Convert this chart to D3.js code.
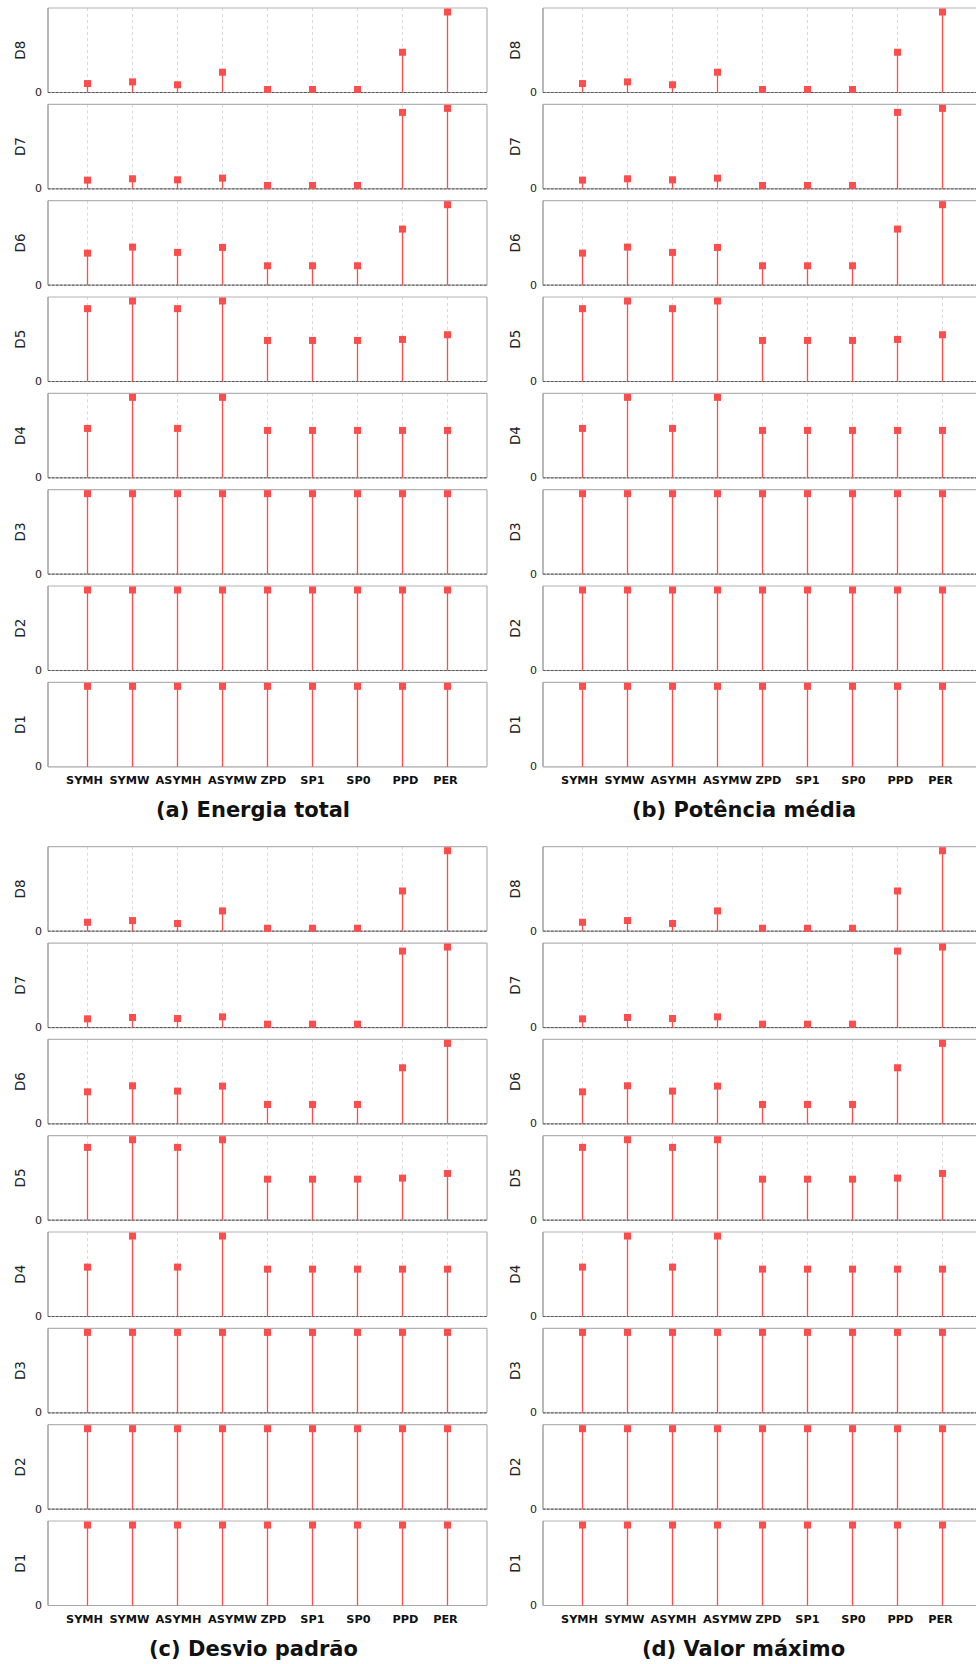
<!DOCTYPE html>
<html>
<head>
<meta charset="utf-8">
<script src="https://cdn.jsdelivr.net/npm/d3@7"></script>
<style>
  html, body { margin: 0; padding: 0; background: #fff; }
  svg { display: block; }
  text { font-family: "DejaVu Sans", sans-serif; }
</style>
</head>
<body>
<svg id="chart" width="976" height="1664"></svg>
<script>
// ---------------- DATA ----------------
const categories = ["SYMH", "SYMW", "ASYMH", "ASYMW", "ZPD", "SP1", "SP0", "PPD", "PER"];
const levels = ["D8", "D7", "D6", "D5", "D4", "D3", "D2", "D1"];
const yTickLabels = ["0"];

// relative values (each level normalised to its own maximum), rows D8..D1
const energiaTotal = [
  [0.111, 0.132, 0.096, 0.252, 0.037, 0.037, 0.037, 0.50, 1.0],
  [0.108, 0.125, 0.112, 0.133, 0.042, 0.042, 0.042, 0.95, 1.0],
  [0.398, 0.473, 0.407, 0.469, 0.241, 0.241, 0.241, 0.697, 1.0],
  [0.905, 1.0, 0.905, 1.0, 0.510, 0.510, 0.510, 0.523, 0.581],
  [0.614, 1.0, 0.614, 1.0, 0.589, 0.589, 0.589, 0.589, 0.589],
  [1.0, 1.0, 1.0, 1.0, 1.0, 1.0, 1.0, 1.0, 1.0],
  [1.0, 1.0, 1.0, 1.0, 1.0, 1.0, 1.0, 1.0, 1.0],
  [1.0, 1.0, 1.0, 1.0, 1.0, 1.0, 1.0, 1.0, 1.0]
];
const potenciaMedia = [
  [0.111, 0.132, 0.096, 0.252, 0.037, 0.037, 0.037, 0.50, 1.0],
  [0.108, 0.125, 0.112, 0.133, 0.042, 0.042, 0.042, 0.95, 1.0],
  [0.398, 0.473, 0.407, 0.469, 0.241, 0.241, 0.241, 0.697, 1.0],
  [0.905, 1.0, 0.905, 1.0, 0.510, 0.510, 0.510, 0.523, 0.581],
  [0.614, 1.0, 0.614, 1.0, 0.589, 0.589, 0.589, 0.589, 0.589],
  [1.0, 1.0, 1.0, 1.0, 1.0, 1.0, 1.0, 1.0, 1.0],
  [1.0, 1.0, 1.0, 1.0, 1.0, 1.0, 1.0, 1.0, 1.0],
  [1.0, 1.0, 1.0, 1.0, 1.0, 1.0, 1.0, 1.0, 1.0]
];
const desvioPadrao = [
  [0.111, 0.132, 0.096, 0.252, 0.037, 0.037, 0.037, 0.50, 1.0],
  [0.108, 0.125, 0.112, 0.133, 0.042, 0.042, 0.042, 0.95, 1.0],
  [0.398, 0.473, 0.407, 0.469, 0.241, 0.241, 0.241, 0.697, 1.0],
  [0.905, 1.0, 0.905, 1.0, 0.510, 0.510, 0.510, 0.523, 0.581],
  [0.614, 1.0, 0.614, 1.0, 0.589, 0.589, 0.589, 0.589, 0.589],
  [1.0, 1.0, 1.0, 1.0, 1.0, 1.0, 1.0, 1.0, 1.0],
  [1.0, 1.0, 1.0, 1.0, 1.0, 1.0, 1.0, 1.0, 1.0],
  [1.0, 1.0, 1.0, 1.0, 1.0, 1.0, 1.0, 1.0, 1.0]
];
const valorMaximo = [
  [0.111, 0.132, 0.096, 0.252, 0.037, 0.037, 0.037, 0.50, 1.0],
  [0.108, 0.125, 0.112, 0.133, 0.042, 0.042, 0.042, 0.95, 1.0],
  [0.398, 0.473, 0.407, 0.469, 0.241, 0.241, 0.241, 0.697, 1.0],
  [0.905, 1.0, 0.905, 1.0, 0.510, 0.510, 0.510, 0.523, 0.581],
  [0.614, 1.0, 0.614, 1.0, 0.589, 0.589, 0.589, 0.589, 0.589],
  [1.0, 1.0, 1.0, 1.0, 1.0, 1.0, 1.0, 1.0, 1.0],
  [1.0, 1.0, 1.0, 1.0, 1.0, 1.0, 1.0, 1.0, 1.0],
  [1.0, 1.0, 1.0, 1.0, 1.0, 1.0, 1.0, 1.0, 1.0]
];
const panelTitles = ["(a) Energia total", "(b) Potência média", "(c) Desvio padrão", "(d) Valor máximo"];

// ---------------- LAYOUT ----------------
const panels = [
  { title: panelTitles[0], data: energiaTotal, left: 48, top: 8, titleX: 253 },
  { title: panelTitles[1], data: potenciaMedia, left: 543, top: 8, titleX: 744 },
  { title: panelTitles[2], data: desvioPadrao, left: 48, top: 846.7, titleX: 253.5 },
  { title: panelTitles[3], data: valorMaximo, left: 543, top: 846.7, titleX: 743.5 }
];
const plotW = 439, plotH = 84.5, pitch = 96.33;
const red = "#ff4c4c";
// small horizontal nudges of the category labels (as placed in the original)
const labelNudge = [-3, -3, 1, 10, 6, 0, 1, 3, -2];

const svg = d3.select("#chart");

panels.forEach(p => {
  const g = svg.append("g");
  const x = d3.scalePoint().domain(categories).range([p.left, p.left + plotW]).padding(0.878);

  levels.forEach((lev, li) => {
    const top = p.top + li * pitch;
    const bottom = top + plotH;
    const y = d3.scaleLinear().domain([0, 1.05]).range([bottom, top]);
    const vals = p.data[li];
    const sg = g.append("g");

    // vertical grid lines
    sg.selectAll("line.grid").data(categories).enter().append("line")
      .attr("x1", d => x(d)).attr("x2", d => x(d))
      .attr("y1", top).attr("y2", bottom)
      .attr("stroke", "#cfcfcf").attr("stroke-width", 0.8)
      .attr("stroke-dasharray", "3,3");

    // frame
    sg.append("line").attr("x1", p.left).attr("x2", p.left + plotW).attr("y1", top).attr("y2", top)
      .attr("stroke", "#b3b3b3").attr("stroke-width", 1.2);
    sg.append("line").attr("x1", p.left + plotW).attr("x2", p.left + plotW).attr("y1", top).attr("y2", bottom)
      .attr("stroke", "#b3b3b3").attr("stroke-width", 1.2);
    sg.append("line").attr("x1", p.left).attr("x2", p.left).attr("y1", top).attr("y2", bottom)
      .attr("stroke", "#9a9a9a").attr("stroke-width", 1.4);
    sg.append("line").attr("x1", p.left).attr("x2", p.left + plotW).attr("y1", y(0)).attr("y2", y(0))
      .attr("stroke", "#a8a8a8").attr("stroke-width", 1.2);
    if (li < levels.length - 1) {
      sg.append("line").attr("x1", p.left).attr("x2", p.left + plotW).attr("y1", y(0)).attr("y2", y(0))
        .attr("stroke", "#555").attr("stroke-width", 1)
        .attr("stroke-dasharray", "2.5,1.5");
    }

    // y tick label "0"
    sg.selectAll("text.ytick").data(yTickLabels).enter().append("text")
      .attr("x", p.left - 6).attr("y", d => y(+d)).attr("dy", "0.33em")
      .attr("text-anchor", "end").attr("font-size", 11).attr("fill", "#222")
      .text(d => d);

    // level label
    sg.append("text")
      .attr("transform", `translate(${p.left - 23},${(top + bottom) / 2}) rotate(-90)`)
      .attr("text-anchor", "middle").attr("font-size", 13.5).attr("fill", "#222")
      .text(lev);

    // stems
    sg.selectAll("line.stem").data(vals).enter().append("line")
      .attr("x1", (d, i) => x(categories[i])).attr("x2", (d, i) => x(categories[i]))
      .attr("y1", y(0)).attr("y2", d => y(d))
      .attr("stroke", red).attr("stroke-width", 1.3);

    // markers
    const ms = 7;
    sg.selectAll("rect.mk").data(vals).enter().append("rect")
      .attr("x", (d, i) => x(categories[i]) - ms / 2)
      .attr("y", d => y(d) - ms / 2)
      .attr("width", ms).attr("height", ms)
      .attr("fill", red);
  });

  // category labels
  const lastBottom = p.top + (levels.length - 1) * pitch + plotH;
  g.selectAll("text.cat").data(categories).enter().append("text")
    .attr("x", (d, i) => x(d) + labelNudge[i]).attr("y", lastBottom + 17.5)
    .attr("text-anchor", "middle").attr("font-size", 11.3).attr("font-weight", "bold")
    .attr("fill", "#111").text(d => d);

  // title
  g.append("text")
    .attr("x", p.titleX).attr("y", lastBottom + 50)
    .attr("text-anchor", "middle").attr("font-size", 21).attr("font-weight", "bold")
    .attr("fill", "#111").text(p.title);
});
</script>
</body>
</html>
